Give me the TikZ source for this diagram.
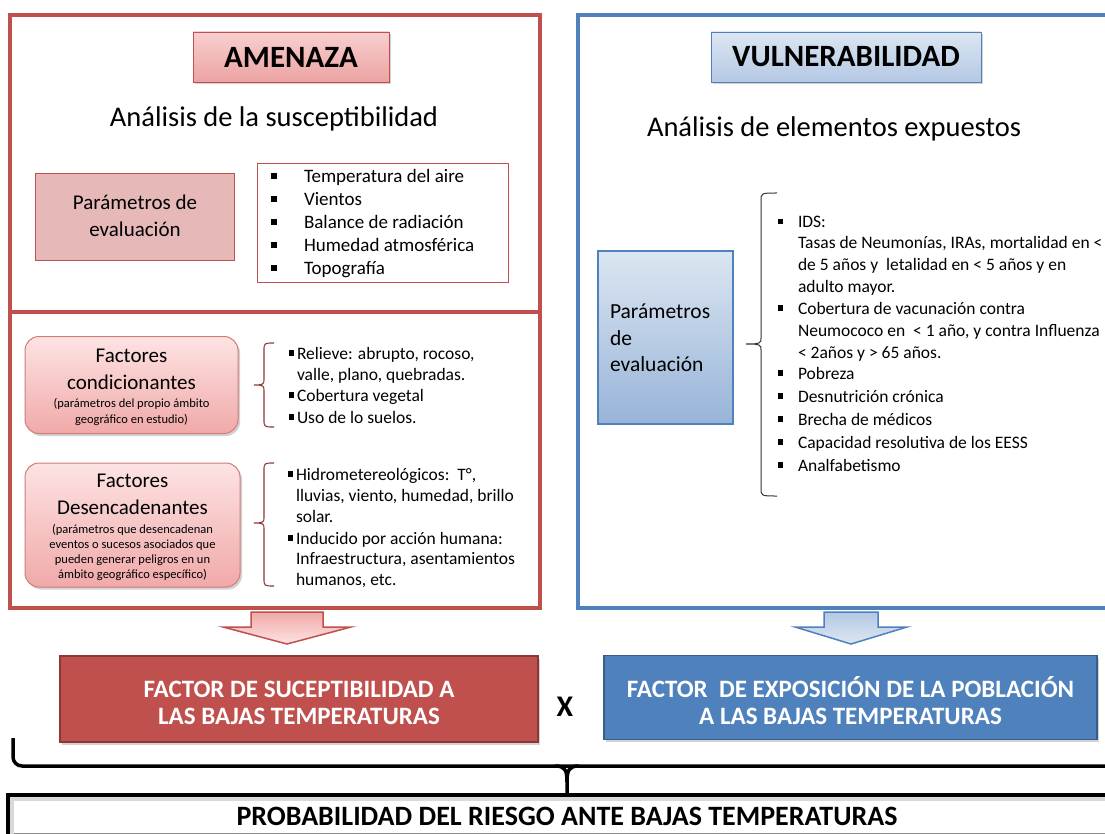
\documentclass[tikz,border=0pt]{standalone}
\usepackage{fontspec}
\setmainfont{Carlito}
\usetikzlibrary{shadows}
\definecolor{rd}{HTML}{C0504D}
\definecolor{rddark}{HTML}{8C3836}
\definecolor{bl}{HTML}{4F81BD}
\definecolor{bldark}{HTML}{385D8A}
\definecolor{pinkA}{HTML}{F9CFCF}
\definecolor{pinkB}{HTML}{EBA3A2}
\definecolor{pinkC}{HTML}{E6B9B8}
\definecolor{pinkD}{HTML}{FDE3E3}
\definecolor{pinkE}{HTML}{F1A9A9}
\definecolor{blA}{HTML}{DCE6F2}
\definecolor{blB}{HTML}{B4C8E4}
\definecolor{blC}{HTML}{97B4D8}
\newcommand\fs[1]{\fontsize{#1}{#1}\selectfont}
\newcommand\sqb{\rule[0.2em]{0.3em}{0.3em}}
\newcommand\mybrace[7]{\draw[#7] (#6,#2) .. controls (#1,#2) and (#1,#2) .. (#1,#2+8) -- (#1,#4-6) .. controls (#1,#4-1) and (#1,#4) .. (#5,#4) .. controls (#1,#4) and (#1,#4+1) .. (#1,#4+6) -- (#1,#3-8) .. controls (#1,#3) and (#1,#3) .. (#6,#3);}
\begin{document}
\begin{tikzpicture}[x=1pt,y=-1pt,
  txt/.style={inner sep=0pt, outer sep=0pt},
  redframe/.style={draw=rd, line width=4.5pt},
  blueframe/.style={draw=bl, line width=4pt},
  shad/.style={drop shadow={opacity=0.35, shadow xshift=2pt, shadow yshift=-2.5pt}},
  titlebox/.style={font=\bfseries\fs{31}, minimum height=50pt, inner sep=0pt, shad},
  redtitle/.style={titlebox, draw=rd, line width=0.8pt, top color=pinkA, bottom color=pinkB},
  bluetitle/.style={titlebox, draw=bl, line width=0.8pt, top color=blA, bottom color=blB},
  factbox/.style={rounded corners=14pt, draw=rd!75, line width=1pt, top color=pinkD, bottom color=pinkE, shad},
  lst/.style={txt, anchor=base west},
  bigtxt/.style={txt, anchor=base, font=\fs{28.5}},
  resbox/.style={line width=1.2pt, shad, inner sep=0pt},
  restxt/.style={txt, anchor=base, font=\bfseries\fs{25}, text=white},
  blockarrow/.style={line width=1.5pt, line join=miter},
  bigbrace/.style={line width=3.5pt, draw=black},
]
\useasboundingbox (0,0) rectangle (1105,834);
\fill[white] (0,0) rectangle (1105,834);
\begin{scope}
\clip (0,0) rectangle (1105,834);

% ---------- AMENAZA ----------
\draw[redframe] (10,15) rectangle (540,312);
\draw[redframe] (10,312) rectangle (540,608);
\node[redtitle, minimum width=196pt] (amenaza) at (291,57) {AMENAZA};
\node[bigtxt] (analisisA) at (274,127) {Análisis de la susceptibilidad};

\node[draw=rd, line width=0.9pt, fill=pinkC, minimum width=199pt, minimum height=87pt] (parA) at (135,216.5) {};
\node[txt, anchor=base, font=\fs{21}] (parA1) at (135,210) {Parámetros de};
\node[txt, anchor=base, font=\fs{21}] (parA2) at (135,237) {evaluación};

\node[draw=rd, line width=0.9pt, minimum width=251pt, minimum height=119pt] (listA) at (382.5,222.5) {};
\foreach \y/\t [count=\i] in {183/Temperatura del aire, 206/Vientos, 229/Balance de radiación, 252/Humedad atmosférica, 275/Topografía}
  \node[lst, font=\fs{19}] (la\i) at (304,\y) {\llap{\sqb\hspace{27pt}}\t};

% Factores condicionantes
\node[factbox, minimum width=213pt, minimum height=97pt] (cond) at (131.5,385) {};
\node[txt, anchor=base, font=\fs{21}] (cond1) at (131.5,362) {Factores};
\node[txt, anchor=base, font=\fs{21}] (cond2) at (131.5,389) {condicionantes};
\node[txt, anchor=base, font=\fs{12.5}] (cond3) at (131.5,407) {(parámetros del propio ámbito};
\node[txt, anchor=base, font=\fs{12.5}] (cond4) at (131.5,423) {geográfico en estudio)};
\mybrace{264}{343}{427}{385}{254}{274}{draw=rddark, line width=1.1pt}
\foreach \y/\t [count=\i] in {359/{\llap{\sqb\hspace{3pt}}Relieve: abrupto, rocoso,}, 380/{valle, plano, quebradas.}, 401/{\llap{\sqb\hspace{3pt}}Cobertura vegetal}, 423/{\llap{\sqb\hspace{3pt}}Uso de lo suelos.}}
  \node[lst, font=\fs{17.5}] (lc\i) at (297,\y) {\t};

% Factores desencadenantes
\node[factbox, minimum width=215pt, minimum height=124pt] (desc) at (132.5,525) {};
\node[txt, anchor=base, font=\fs{21}] (desc1) at (132.5,487) {Factores};
\node[txt, anchor=base, font=\fs{21}] (desc2) at (132.5,514) {Desencadenantes};
\foreach \y/\t [count=\i] in {533/(parámetros que desencadenan, 548/eventos o sucesos asociados que, 563/pueden generar peligros en un, 578/ámbito geográfico específico)}
  \node[txt, anchor=base, font=\fs{12.5}] (descs\i) at (132.5,\y) {\t};
\mybrace{264}{463}{586}{523}{254}{274}{draw=rddark, line width=1.1pt}
\foreach \y/\t [count=\i] in {480/{\llap{\sqb\hspace{3pt}}Hidrometereológicos:\ \ T°,}, 501/{lluvias, viento, humedad, brillo}, 522/{solar.}, 544/{\llap{\sqb\hspace{3pt}}Inducido por acción humana:}, 564/{Infraestructura, asentamientos}, 585/{humanos, etc.}}
  \node[lst, font=\fs{17.5}] (ld\i) at (296,\y) {\t};

% ---------- VULNERABILIDAD ----------
\draw[blueframe] (578,15) rectangle (1120,608);
\node[bluetitle, minimum width=270pt] (vuln) at (846,57) {VULNERABILIDAD};
\node[bigtxt] (analisisB) at (834,137) {Análisis de elementos expuestos};

\node[draw=bl, line width=2pt, top color=blA, bottom color=blC, minimum width=135pt, minimum height=173pt] (parB) at (665.5,337.5) {};
\node[lst, font=\fs{21.5}] (parB1) at (610,318) {Parámetros};
\node[lst, font=\fs{21.5}] (parB2) at (610,345) {de};
\node[lst, font=\fs{21.5}] (parB3) at (610,371) {evaluación};
\mybrace{761}{193}{496}{344}{746}{777}{draw=black!80, line width=1pt}
\foreach \y/\t [count=\i] in {228/{\llap{\sqb\hspace{15pt}}IDS:}, 249/{Tasas de Neumonías, IRAs, mortalidad en <}, 271/{de 5 años y\ \ letalidad en < 5 años y en}, 292/{adulto mayor.}, 314/{\llap{\sqb\hspace{15pt}}Cobertura de vacunación contra}, 336/{Neumococo en\ \ < 1 año, y contra Influenza}, 358/{< 2años y > 65 años.}, 379/{\llap{\sqb\hspace{15pt}}Pobreza}, 402/{\llap{\sqb\hspace{15pt}}Desnutrición crónica}, 425/{\llap{\sqb\hspace{15pt}}Brecha de médicos}, 448/{\llap{\sqb\hspace{15pt}}Capacidad resolutiva de los EESS}, 471/{\llap{\sqb\hspace{15pt}}Analfabetismo}}
  \node[lst, font=\fs{17.5}] (lv\i) at (798,\y) {\t};

% ---------- block arrows ----------
\draw[blockarrow, draw=rd, top color=pinkE, bottom color=pinkD]
  (251,612) -- (323,612) -- (323,627) -- (351,627) -- (287,644) -- (223,627) -- (251,627) -- cycle;
\draw[blockarrow, draw=bl, top color=blB, bottom color=blA]
  (824,612) -- (878,612) -- (878,627) -- (907,627) -- (851,644) -- (795,627) -- (824,627) -- cycle;

% ---------- result boxes ----------
\node[resbox, draw=rddark, fill=rd, minimum width=478pt, minimum height=86pt] (facA) at (299,699) {};
\node[restxt] (facA1) at (299,697) {FACTOR DE SUCEPTIBILIDAD A};
\node[restxt] (facA2) at (299,724) {LAS BAJAS TEMPERATURAS};
\node[resbox, draw=bldark, fill=bl, minimum width=493pt, minimum height=84pt] (facB) at (850.5,697.5) {};
\node[restxt] (facB1) at (850.5,697) {FACTOR\ \ DE EXPOSICIÓN DE LA POBLACIÓN};
\node[restxt] (facB2) at (850.5,724) {A LAS BAJAS TEMPERATURAS};
\node[txt, anchor=base, font=\bfseries\fs{30}] (times) at (565,716) {X};

% ---------- big brace ----------
\draw[bigbrace, rounded corners=9pt] (13,738) -- (13,766) -- (1120,766);
\draw[bigbrace, line join=round] (555,766) .. controls (565,766) and (567,770) .. (567,782) -- (567,793);
\draw[bigbrace, line join=round] (579,766) .. controls (569,766) and (567,770) .. (567,782);

% ---------- bottom box ----------
\draw[line width=0.8pt, draw=black!45] (8,833) -- (1120,833);
\draw[line width=6pt, draw=black!15] (11,838) -- (11,798) -- (1120,798);
\draw[line width=4pt] (8,836) -- (8,795) -- (1120,795);
\node[txt, anchor=base, font=\bfseries\fs{28}] (prob) at (567,825) {PROBABILIDAD DEL RIESGO ANTE BAJAS TEMPERATURAS};
\end{scope}
\end{tikzpicture}
\end{document}
